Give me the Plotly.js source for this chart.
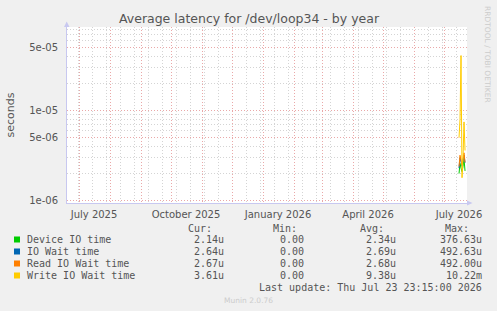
<!DOCTYPE html>
<html>
<head>
<meta charset="utf-8">
<script src="https://cdn.plot.ly/plotly-3.0.1.min.js"></script>
<style>
html,body{margin:0;padding:0;background:#f0f0f0;}
#chart{width:497px;height:311px;}
</style>
</head>
<body>
<div id="chart"></div>
<script>
// ---- data ----
const dates = ['2026-07-16','2026-07-17','2026-07-18','2026-07-19','2026-07-20','2026-07-21','2026-07-22'];
const deviceIO = [2.0e-6, 2.6e-6, 2.3e-6, 2.1e-6, 2.4e-6, 2.9e-6, 2.14e-6];
const ioWait   = [2.3e-6, 3.0e-6, 2.7e-6, 2.4e-6, 2.8e-6, 3.2e-6, 2.64e-6];
const readWait = [2.4e-6, 3.2e-6, 2.8e-6, 2.5e-6, 2.9e-6, 3.4e-6, 2.67e-6];
const writeWait= [5.0e-6, 8.0e-6, 4.1e-5, 1.8e-6, 3.0e-6, 7.5e-6, 3.61e-6];

const seriesNames  = ['Device IO time','IO Wait time','Read IO Wait time','Write IO Wait time'];
const seriesColors = ['#00cc00','#0066b3','#ff8000','#ffcc00'];
const curVals = ['2.14u','2.64u','2.67u','3.61u'];
const minVals = ['0.00','0.00','0.00','0.00'];
const avgVals = ['2.34u','2.69u','2.68u','9.38u'];
const maxVals = ['376.63u','492.63u','492.00u','10.22m'];

const xTickVals = ['2025-07-16','2025-10-16','2026-01-16','2026-04-16','2026-07-16'];
const xTickText = ['July 2025','October 2025','January 2026','April 2026','July 2026'];
const yTickVals = [1e-6, 5e-6, 1e-5, 5e-5];
const yTickText = ['1e-06','5e-06','1e-05','5e-05'];

const xRange = ['2025-06-18 23:15','2026-07-23 23:15'];

// ---- grid positions ----
const monthStarts = [];
for (let t = new Date(Date.UTC(2025, 6, 1)); t <= new Date(Date.UTC(2026, 6, 1)); t.setUTCMonth(t.getUTCMonth() + 1)) {
  monthStarts.push(t.toISOString().slice(0, 10));
}
const biweekly = [];
for (let t = Date.UTC(2025, 5, 30); t < Date.UTC(2026, 6, 24); t += 14 * 864e5) {
  biweekly.push(new Date(t).toISOString().slice(0, 10));
}
const yMinor = [];
[1e-6, 1e-5].forEach(d => { for (let k = 2; k <= 9; k++) if (k !== 5) yMinor.push(k * d); });

// ---- geometry helpers (plot area: x 67..467, y 27..203) ----
const L = 67, R = 467, T = 27, B = 203;
const px = x => (x - L) / (R - L);
const py = y => (B - y) / (B - T);

const traces = [deviceIO, ioWait, readWait, writeWait].map((vals, i) => ({
  type: 'scatter', mode: 'lines', x: dates, y: vals, name: seriesNames[i],
  xaxis: i === 3 ? 'x2' : 'x', yaxis: 'y',
  line: {color: seriesColors[i], width: 1}, showlegend: false, hoverinfo: 'skip'
}));

const mono = {family: 'DejaVu Sans Mono', size: 10, color: '#555555'};
const ann = [];
function txt(text, x, y, anchor, font) {
  ann.push({text: text, xref: 'paper', yref: 'paper', x: px(x), y: py(y),
    xanchor: anchor, yanchor: 'middle', showarrow: false, font: font, borderpad: 0});
}
txt('Cur:', 213, 228, 'right', mono);
txt('Min:', 298, 228, 'right', mono);
txt('Avg:', 385, 228, 'right', mono);
txt('Max:', 470, 228, 'right', mono);
const shapes = [];
seriesNames.forEach((n, i) => {
  const yy = 239.5 + 12 * i;
  txt(n, 26, yy, 'left', mono);
  txt(curVals[i], 225, yy, 'right', mono);
  txt(minVals[i], 305, yy, 'right', mono);
  txt(avgVals[i], 397, yy, 'right', mono);
  txt(maxVals[i], 483, yy, 'right', mono);
  shapes.push({type: 'rect', xref: 'paper', yref: 'paper',
    x0: px(14), x1: px(20), y0: py(yy + 3), y1: py(yy - 3),
    fillcolor: seriesColors[i], line: {width: 0}});
});
txt('Last update: Thu Jul 23 23:15:00 2026', 483, 287.5, 'right', mono);
txt('Munin 2.0.76', 248, 300, 'center', {family: 'DejaVu Sans', size: 7.5, color: '#cccccc'});
ann.push({text: 'RRDTOOL / TOBI OETIKER', xref: 'paper', yref: 'paper', x: px(488), y: py(54),
  xanchor: 'center', yanchor: 'middle', textangle: 90, showarrow: false,
  font: {family: 'DejaVu Sans', size: 7.5, color: '#cccccc'}});

// axis arrows
shapes.push({type: 'path', xref: 'paper', yref: 'paper',
  path: 'M ' + px(64) + ' ' + py(27) + ' L ' + px(69.5) + ' ' + py(27) + ' L ' + px(66.7) + ' ' + py(21.5) + ' Z',
  fillcolor: '#c8c8f0', line: {width: 0}});
shapes.push({type: 'path', xref: 'paper', yref: 'paper',
  path: 'M ' + px(467) + ' ' + py(200.5) + ' L ' + px(467) + ' ' + py(205.5) + ' L ' + px(472.5) + ' ' + py(203) + ' Z',
  fillcolor: '#c8c8f0', line: {width: 0}});

const layout = {
  width: 497, height: 311,
  margin: {l: L, r: 497 - R, t: T, b: 311 - B},
  paper_bgcolor: '#f0f0f0', plot_bgcolor: '#ffffff',
  font: {family: 'DejaVu Sans', size: 10, color: '#555555'},
  title: {text: 'Average latency for /dev/loop34 - by year', x: 249 / 497, xanchor: 'center',
    y: 1 - 19 / 311, yanchor: 'middle', font: {family: 'DejaVu Sans', size: 12.5, color: '#555555'}},
  xaxis: {type: 'date', range: xRange, tickmode: 'array', tickvals: monthStarts,
    showticklabels: false, ticks: '', showgrid: true, gridcolor: '#eaa8a8', griddash: '1px,2px', gridwidth: 1,
    minor: {tickmode: 'array', tickvals: biweekly, showgrid: true, gridcolor: '#d4d4d4', griddash: '1px,2px', gridwidth: 1, ticks: ''},
    showline: true, linecolor: '#c8c8f0', linewidth: 1, zeroline: false, fixedrange: true},
  xaxis2: {type: 'date', range: xRange, overlaying: 'x', anchor: 'y', side: 'bottom',
    tickmode: 'array', tickvals: xTickVals, ticktext: xTickText, showgrid: false, ticks: '',
    ticklabelstandoff: 4, tickfont: {family: 'DejaVu Sans', size: 10, color: '#555555'}, showline: false, zeroline: false},
  yaxis: {type: 'log', range: [-6.026, -4.07], tickmode: 'array', tickvals: yTickVals, ticktext: yTickText,
    showgrid: true, gridcolor: '#eaa8a8', griddash: '1px,2px', gridwidth: 1, ticks: '',
    ticklabelstandoff: 6,
    minor: {tickmode: 'array', tickvals: yMinor, showgrid: true, gridcolor: '#d4d4d4', griddash: '1px,2px', gridwidth: 1, ticks: ''},
    showline: true, linecolor: '#c8c8f0', linewidth: 1, zeroline: false,
    title: {text: 'seconds', standoff: 12, font: {family: 'DejaVu Sans', size: 11, color: '#555555'}},
    tickfont: {family: 'DejaVu Sans', size: 10, color: '#555555'}},
  annotations: ann,
  shapes: shapes,
  showlegend: false
};

Plotly.newPlot('chart', traces, layout, {staticPlot: true, displayModeBar: false});
</script>
</body>
</html>
